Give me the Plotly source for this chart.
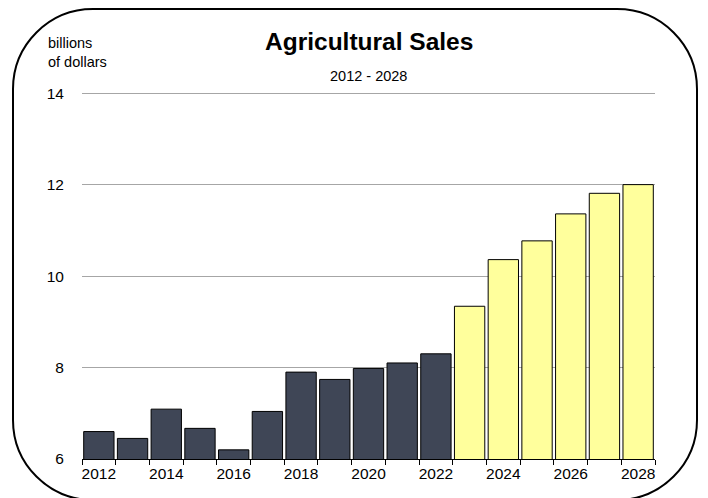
import plotly.graph_objects as go

years = list(range(2012, 2029))
sales = [6.60, 6.45, 7.09, 6.67, 6.20, 7.04, 7.90, 7.74, 7.98, 8.10, 8.30,
         9.34, 10.36, 10.77, 11.36, 11.81, 12.00]
n_actual = 11  # 2012-2022 actual, 2023-2028 projected
dark_color = "#3f4656"
proj_color = "#ffff9c"
y_ticks = [6, 8, 10, 12, 14]
x_label_years = years[::2]

colors = [dark_color] * n_actual + [proj_color] * (len(years) - n_actual)

OFF = 8  # page body margin
W, H = 708 - OFF, 498 - OFF
Y_TOP = 14.2
L, R, T, B = 82 - OFF, 655 - OFF, 84 - OFF, 459 - OFF

fig = go.Figure()
fig.add_trace(go.Bar(
    x=years, y=sales, marker=dict(color=colors, line=dict(color="black", width=1)),
    width=0.9, base=0,
))

def px(x):
    return (x - OFF - L) / (R - L)

def py(y):
    return (B - (y - OFF)) / (B - T)

# rounded border path (page pixel coords -> paper)
x0, x1, y0, y1 = 13, 697, 9, 500
r = 80
k = 0.5523 * r
path = (
    f"M {px(x0 + r)},{py(y0)} L {px(x1 - r)},{py(y0)} "
    f"C {px(x1 - r + k)},{py(y0)} {px(x1)},{py(y0 + r - k)} {px(x1)},{py(y0 + r)} "
    f"L {px(x1)},{py(y1 - r)} "
    f"C {px(x1)},{py(y1 - r + k)} {px(x1 - r + k)},{py(y1)} {px(x1 - r)},{py(y1)} "
    f"L {px(x0 + r)},{py(y1)} "
    f"C {px(x0 + r - k)},{py(y1)} {px(x0)},{py(y1 - r + k)} {px(x0)},{py(y1 - r)} "
    f"L {px(x0)},{py(y0 + r)} "
    f"C {px(x0)},{py(y0 + r - k)} {px(x0 + r - k)},{py(y0)} {px(x0 + r)},{py(y0)} Z"
)
fig.add_shape(type="path", path=path, xref="paper", yref="paper",
              line=dict(color="black", width=2), layer="above")

tick_font = dict(family="Liberation Sans, Arial", size=15.5, color="black")

fig.update_layout(
    width=W, height=H,
    margin=dict(l=L, r=W - R, t=T, b=H - B, pad=0),
    paper_bgcolor="white", plot_bgcolor="white",
    showlegend=False,
    font=dict(family="Liberation Sans, Arial", color="black"),
    xaxis=dict(
        type="linear", range=[2011.5, 2028.5],
        tickvals=x_label_years, ticktext=[str(y) for y in x_label_years],
        ticks="", showgrid=False, zeroline=False,
        showline=True, linecolor="black", linewidth=1,
        tickfont=tick_font,
        minor=dict(tickmode="linear", tick0=2011.5, dtick=1, ticks="outside",
                   ticklen=5, tickcolor="black", tickwidth=1, showgrid=False),
    ),
    yaxis=dict(
        range=[6, Y_TOP], tickvals=y_ticks, ticks="outside", ticklen=14,
        tickcolor="rgba(0,0,0,0)", showgrid=True, gridcolor="#a6a6a6", gridwidth=1,
        zeroline=False, showline=False, tickfont=tick_font,
    ),
    bargap=0.1,
    annotations=[
        dict(text="<b>Agricultural Sales</b>", x=0.5, y=py(42), xref="paper", yref="paper",
             showarrow=False, font=dict(size=24.5, family="Liberation Sans, Arial"),
             xanchor="center", yanchor="middle"),
        dict(text="2012 - 2028", x=0.5, y=py(76), xref="paper", yref="paper",
             showarrow=False, font=dict(size=14.5, family="Liberation Sans, Arial"),
             xanchor="center", yanchor="middle"),
        dict(text="billions<br>of dollars", x=px(46), y=py(52), xref="paper", yref="paper",
             showarrow=False, font=dict(size=14.5, family="Liberation Sans, Arial"),
             xanchor="left", yanchor="middle", align="left"),
    ],
)

fig.write_html("out.html")
